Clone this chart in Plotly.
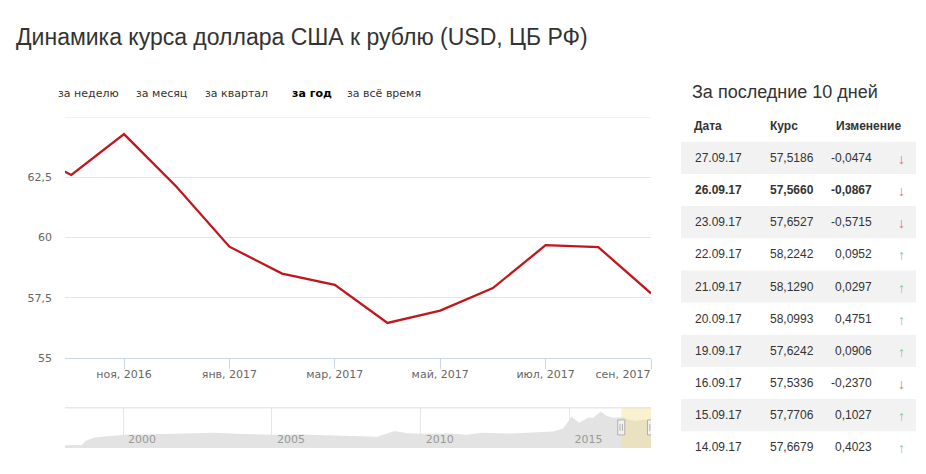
import plotly.graph_objects as go

# ---------------- data ----------------
months = ["сен 2016", "окт 2016", "ноя 2016", "дек 2016", "янв 2017", "фев 2017",
          "мар 2017", "апр 2017", "май 2017", "июн 2017", "июл 2017", "авг 2017", "сен 2017"]
usd_rate = [63.70, 62.60, 64.30, 62.10, 59.62, 58.50, 58.03, 56.45, 56.96, 57.90, 59.68, 59.60, 57.68]

tick_months = ["ноя 2016", "янв 2017", "мар 2017", "май 2017", "июл 2017"]
tick_labels = ["ноя, 2016", "янв, 2017", "мар, 2017", "май, 2017", "июл, 2017"]
last_tick_month = "сен 2017"
last_tick_label = "сен, 2017"

y_ticks = [55, 57.5, 60, 62.5, 65]
y_tick_labels = ["55", "57,5", "60", "62,5", ""]

nav_dates = ["1998-01-19", "1998-08-15", "1998-09-20", "1999-01-15", "1999-06-15", "2000-01-15",
             "2001-01-15", "2002-01-15", "2003-01-15", "2004-01-15", "2005-01-15", "2006-01-15",
             "2007-01-15", "2008-01-15", "2008-07-15", "2009-02-15", "2009-07-15", "2010-01-15",
             "2011-01-15", "2011-07-15", "2012-01-15", "2013-01-15", "2014-01-15", "2014-06-15",
             "2014-10-15", "2014-12-15", "2015-01-25", "2015-05-01", "2015-08-20", "2015-10-15",
             "2016-01-20", "2016-04-01", "2016-07-01", "2016-09-01", "2016-11-01", "2017-01-01",
             "2017-04-01", "2017-07-01", "2017-09-27"]
nav_values = [5.9, 6.3, 14.0, 22.0, 24.5, 28.0,
              29.0, 30.5, 31.8, 29.5, 28.0, 28.5,
              26.5, 24.5, 23.5, 35.5, 31.0, 30.0,
              30.5, 28.0, 32.0, 30.5, 33.0, 34.5,
              41.0, 56.0, 65.5, 53.0, 64.0, 63.0,
              77.0, 67.5, 63.5, 64.5, 64.3, 59.6,
              56.5, 59.7, 57.5]
nav_ticks = ["2000-01-01", "2005-01-01", "2010-01-01", "2015-01-01"]
nav_tick_labels = ["2000", "2005", "2010", "2015"]
selected_from, selected_to = "2016-09-27", "2017-09-27"

range_buttons = ["за неделю", "за месяц", "за квартал", "за год", "за всё время"]
active_button = "за год"

table_dates = ["27.09.17", "26.09.17", "23.09.17", "22.09.17", "21.09.17",
               "20.09.17", "19.09.17", "16.09.17", "15.09.17", "14.09.17"]
table_rates = [57.5186, 57.5660, 57.6527, 58.2242, 58.1290, 58.0993, 57.6242, 57.5336, 57.7706, 57.6679]
table_changes = [-0.0474, -0.0867, -0.5715, 0.0952, 0.0297, 0.4751, 0.0906, -0.2370, 0.1027, 0.4023]
bold_row = "26.09.17"

# ---------------- layout helpers ----------------
W, H = 926, 474
H_VIEW = 466   # vertical extent the page is actually drawn with
def px(x):
    return x / W
def py(y):
    return 1 - y / H_VIEW

PL, PR = 65, 651          # plot left / right (px)
MT, MB = 117, 357         # main plot top / bottom (px)
NT, NB = 407, 447         # navigator top / bottom (px)

AX_FONT = "DejaVu Sans, Verdana, sans-serif"
TXT_FONT = "Liberation Sans, Arial, sans-serif"

x_idx = list(range(len(months)))
x_range = [0.88, len(months) - 1]

fig = go.Figure()
fig.add_trace(go.Scatter(x=x_idx, y=usd_rate, mode="lines",
                         line=dict(color="#c1161c", width=2.3),
                         hoverinfo="skip", xaxis="x", yaxis="y"))
# helper trace so the overlay axis (last tick label) is drawn
fig.add_trace(go.Scatter(x=x_idx, y=usd_rate, mode="lines",
                         line=dict(color="rgba(0,0,0,0)", width=0),
                         hoverinfo="skip", xaxis="x3", yaxis="y"))
fig.add_trace(go.Scatter(x=nav_dates, y=nav_values, mode="lines",
                         line=dict(color="#e3e3e3", width=0),
                         fill="tozeroy", fillcolor="#e3e3e3",
                         hoverinfo="skip", xaxis="x2", yaxis="y2"))

axis_tick_font = dict(family=AX_FONT, size=11, color="#666666")

fig.update_layout(
    width=W, height=H, autosize=False,
    margin=dict(l=0, r=0, t=0, b=0),
    paper_bgcolor="white", plot_bgcolor="white",
    showlegend=False, hovermode=False,
    separators=", ",
    xaxis=dict(domain=[px(PL), px(PR)], anchor="y", range=x_range,
               tickvals=[months.index(m) for m in tick_months], ticktext=tick_labels,
               ticks="outside", ticklen=10, tickcolor="#ccd6eb", tickwidth=1,
               showline=True, linecolor="#ccd6eb", linewidth=1,
               showgrid=False, zeroline=False, tickfont=axis_tick_font,
               ticklabelstandoff=-4, fixedrange=True),
    xaxis3=dict(overlaying="x", anchor="y", range=x_range,
                tickvals=[months.index(last_tick_month)], ticktext=[last_tick_label],
                ticklabelposition="outside left",
                ticks="outside", ticklen=10, tickcolor="#ccd6eb", tickwidth=1,
                showline=False, showgrid=False, zeroline=False,
                tickfont=axis_tick_font, ticklabelstandoff=6, fixedrange=True),
    yaxis=dict(domain=[py(MB), py(MT)], anchor="x", range=[55, 65],
               tickvals=y_ticks, ticktext=y_tick_labels,
               showgrid=True, gridcolor="#e6e6e6", gridwidth=1,
               zeroline=False, showline=False, ticks="",
               tickfont=axis_tick_font, ticklabelstandoff=12, fixedrange=True),
    xaxis2=dict(domain=[px(PL), px(PR)], anchor="y2", type="date",
                range=["1998-01-19", "2017-09-27"],
                tickvals=nav_ticks, ticktext=nav_tick_labels,
                showgrid=True, gridcolor="#e6e6e6", gridwidth=1,
                ticks="", ticklabelposition="inside right",
                ticklabelshift=5, ticklabelstandoff=-3,
                tickfont=dict(family=AX_FONT, size=11, color="#999999"),
                showline=False, zeroline=False, fixedrange=True),
    yaxis2=dict(domain=[py(NB), py(NT)], anchor="x2", range=[0, 84.4],
                visible=False, fixedrange=True),
)

shapes = []
# top gridline of the main plot (at the upper end of the y range)
shapes.append(dict(type="line", xref="x domain", yref="y",
                   x0=0, x1=1, y0=y_ticks[-1], y1=y_ticks[-1],
                   line=dict(color="#e6e6e6", width=1), layer="below"))
# navigator top outline
shapes.append(dict(type="line", xref="paper", yref="paper",
                   x0=px(PL), x1=px(PR), y0=py(NT), y1=py(NT),
                   line=dict(color="#dddddd", width=1)))
# selected range mask
shapes.append(dict(type="rect", xref="x2", yref="paper",
                   x0=selected_from, x1=selected_to, y0=py(NB), y1=py(NT),
                   fillcolor="rgba(240,222,140,0.42)", line=dict(width=0), layer="above"))
# handles
for d in (selected_from, selected_to):
    shapes.append(dict(type="rect", xref="x2", yref="paper", xsizemode="pixel", xanchor=d,
                       x0=-3.5, x1=3.5, y0=py(434), y1=py(419),
                       fillcolor="#f2f2f2", line=dict(color="#b0b0b0", width=1), layer="above"))
    for off in (-1.2, 1.2):
        shapes.append(dict(type="line", xref="x2", yref="paper", xsizemode="pixel", xanchor=d,
                           x0=off, x1=off, y0=py(430), y1=py(423),
                           line=dict(color="#b0b0b0", width=1), layer="above"))

# table bands
ROW0, ROWH = 157.5, 32.1
for i in range(len(table_dates)):
    if i % 2 == 0:
        cy = ROW0 + i * ROWH
        shapes.append(dict(type="rect", xref="paper", yref="paper",
                           x0=px(681), x1=px(916), y0=py(cy + ROWH / 2), y1=py(cy - ROWH / 2),
                           fillcolor="#f2f2f2", line=dict(width=0), layer="below"))
fig.update_layout(shapes=shapes)

ann = []
def text(x, y, s, size, color="#333333", family=TXT_FONT, xanchor="left"):
    ann.append(dict(x=px(x), y=py(y), xref="paper", yref="paper", text=s, showarrow=False,
                    xanchor=xanchor, yanchor="middle",
                    font=dict(family=family, size=size, color=color)))

text(14, 37, "Динамика курса доллара США к рублю (USD, ЦБ РФ)", 23)
text(690, 92, "За последние 10 дней", 18)

btn_x = [56, 134, 203, 290, 345]
for bx, label in zip(btn_x, range_buttons):
    if label == active_button:
        text(bx, 93, "<b>" + label + "</b>", 11, color="#000000", family=AX_FONT)
    else:
        text(bx, 93, label, 11, color="#333333", family=AX_FONT)

text(692, 126, "<b>Дата</b>", 12)
text(768, 126, "<b>Курс</b>", 12)
text(903, 126, "<b>Изменение</b>", 12, xanchor="right")

def fmt(v):
    return f"{v:.4f}".replace(".", ",")

for i, (d, r, c) in enumerate(zip(table_dates, table_rates, table_changes)):
    cy = ROW0 + i * ROWH
    b0, b1 = ("<b>", "</b>") if d == bold_row else ("", "")
    text(693, cy, b0 + d + b1, 12)
    text(768, cy, b0 + fmt(r) + b1, 12)
    text(874, cy, b0 + fmt(c) + b1, 12, xanchor="right")
    if c < 0:
        text(901, cy + 1, "↓", 14, color="#e07070", family=TXT_FONT, xanchor="center")
    else:
        text(901, cy + 1, "↑", 14, color="#78cc86", family=TXT_FONT, xanchor="center")

fig.update_layout(annotations=ann)

fig.write_html("out.html", config={"displayModeBar": False, "responsive": False},
               post_script="document.body.style.margin='0';")
